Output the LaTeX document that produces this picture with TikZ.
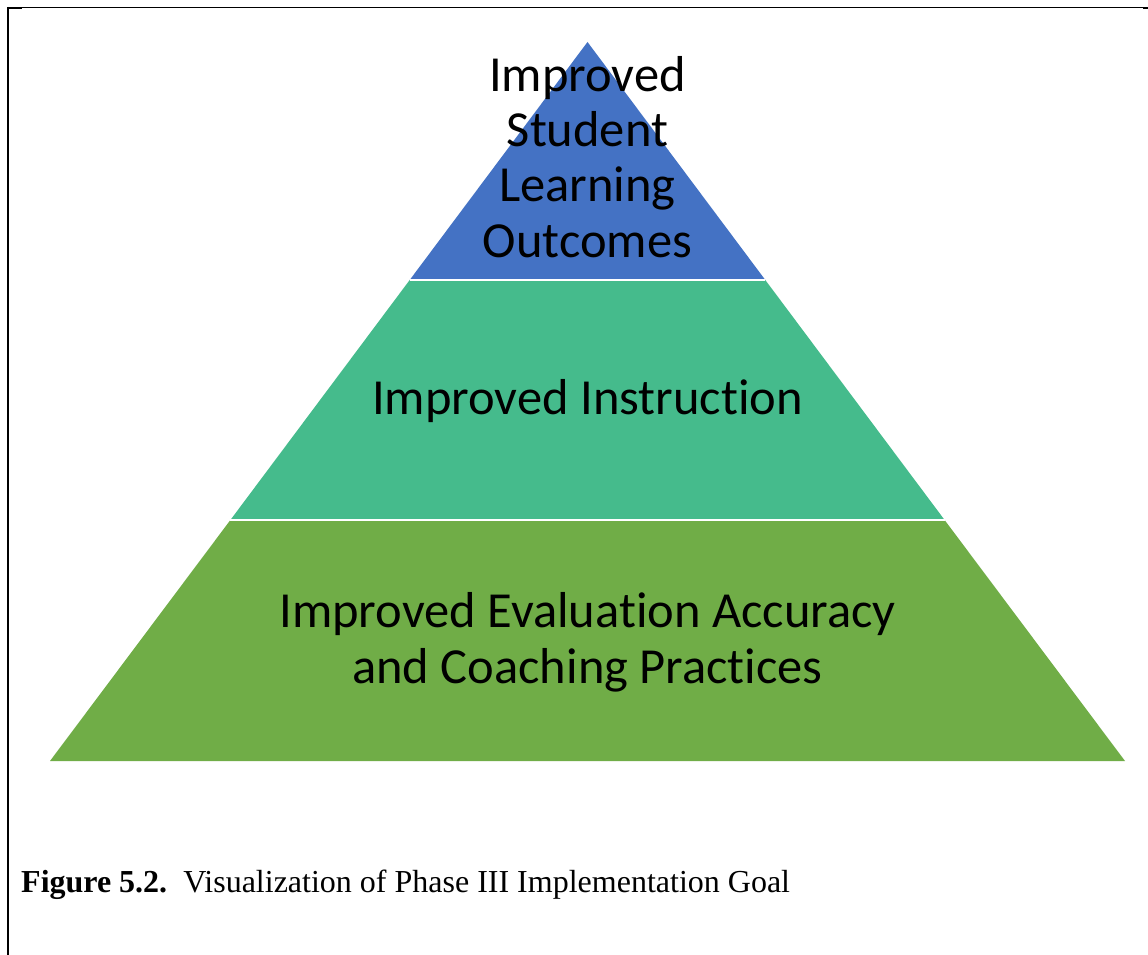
\documentclass[tikz,border=0pt]{standalone}
\usepackage{fontspec}
\setmainfont{Carlito}[Ligatures=CommonOff]
\newfontfamily\capfont{Liberation Serif}
\definecolor{pblue}{HTML}{4472C4}
\definecolor{pteal}{HTML}{45BB8C}
\definecolor{pgreen}{HTML}{70AD47}
\begin{document}
\begin{tikzpicture}[x=1pt,y=-1pt,
  lbl/.style={align=center,font=\fontsize{50.5}{55.3}\selectfont,inner sep=0pt,anchor=base},
  sep/.style={draw=white,line width=2pt},
  frame/.style={draw=black,line width=2pt}]
\useasboundingbox[fill=white] (0,0) rectangle (1148,955);
% pyramid layers
\fill[pgreen] (230.4,520) -- (944.6,520) -- (1125,761) -- (50,761) -- cycle;
\fill[pteal] (409.7,280) -- (765.3,280) -- (944.6,520) -- (230.4,520) -- cycle;
\fill[pblue] (587.5,42) -- (765.3,280) -- (409.7,280) -- cycle;
\draw[sep] (409.7,280) -- (765.3,280);
\draw[sep] (230.4,520) -- (944.6,520);
% texts (base anchor = last line)
\node[lbl] (top) at (587.5,257) {Improved\\Student\\Learning\\Outcomes};
\node[lbl] (mid) at (587.5,414) {Improved Instruction};
\node[lbl] (bot) at (587.5,683) {Improved Evaluation Accuracy\\and Coaching Practices};
\node[anchor=base west,inner sep=0pt,font=\capfont\fontsize{32}{36}\selectfont] (cap) at (21,892)
  {\textbf{Figure 5.2.}\ \ Visualization of Phase III Implementation Goal};
% frame
\draw[black,line width=1.6pt] (7,7.5) -- (1148,7.5);
\draw[frame] (8,7) -- (8,955);
\fill[black] (7,7) rectangle (22,9.5);
\fill[black] (1143,7) rectangle (1148,9.5);
\end{tikzpicture}
\end{document}
